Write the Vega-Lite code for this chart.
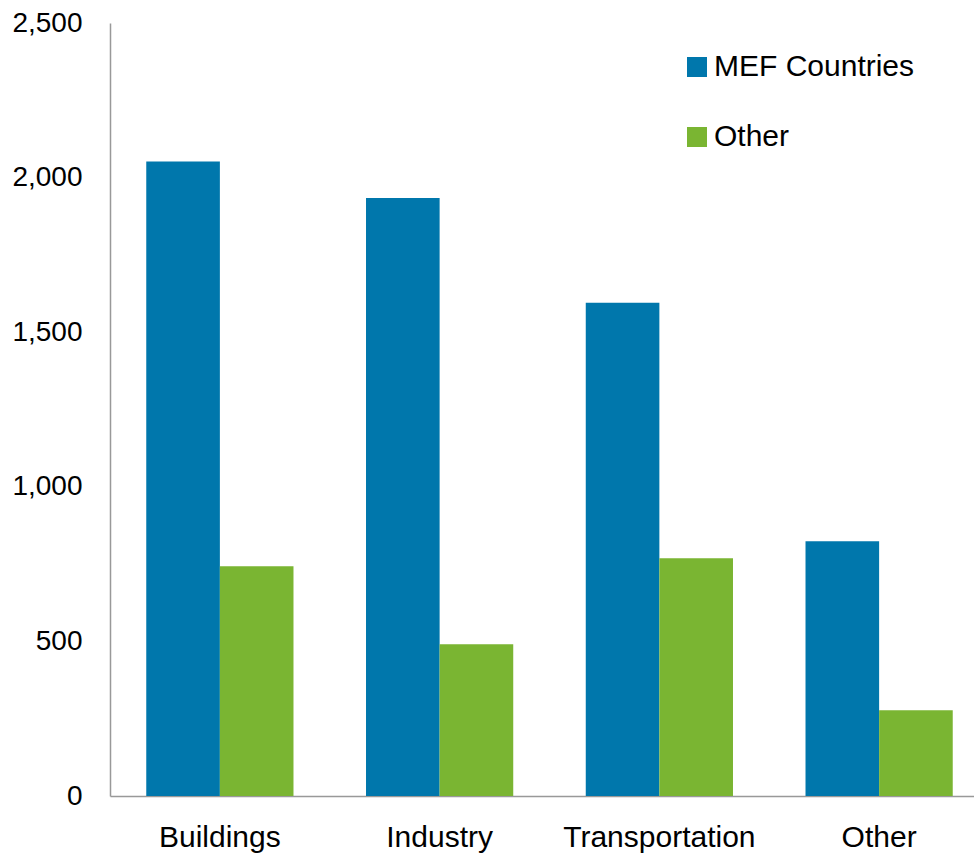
{
  "$schema": "https://vega.github.io/schema/vega-lite/v6.json",
  "width": 879,
  "height": 773,
  "autosize": {"type": "none"},
  "padding": {"left": 110, "top": 23, "right": 0, "bottom": 65},
  "data": {
    "values": [
      {"sector": "Buildings", "group": "MEF Countries", "value": 2052},
      {"sector": "Buildings", "group": "Other", "value": 743},
      {"sector": "Industry", "group": "MEF Countries", "value": 1934},
      {"sector": "Industry", "group": "Other", "value": 491},
      {"sector": "Transportation", "group": "MEF Countries", "value": 1595},
      {"sector": "Transportation", "group": "Other", "value": 769},
      {"sector": "Other", "group": "MEF Countries", "value": 824},
      {"sector": "Other", "group": "Other", "value": 277}
    ]
  },
  "mark": {"type": "bar"},
  "encoding": {
    "x": {
      "field": "sector",
      "type": "nominal",
      "sort": ["Buildings", "Industry", "Transportation", "Other"],
      "scale": {"paddingInner": 0.33, "paddingOuter": 0.165},
      "axis": {
        "title": null,
        "labelAngle": 0,
        "ticks": false,
        "labelPadding": 26,
        "labelFontSize": 30,
        "labelLimit": 0,
        "labelFont": "Liberation Sans",
        "labelColor": "#000000",
        "domainColor": "#999999",
        "domainWidth": 1.5
      }
    },
    "xOffset": {"field": "group", "type": "nominal", "sort": ["MEF Countries", "Other"]},
    "y": {
      "field": "value",
      "type": "quantitative",
      "scale": {"domain": [0, 2500]},
      "axis": {
        "title": null,
        "values": [0, 500, 1000, 1500, 2000, 2500],
        "format": ",.0f",
        "grid": false,
        "ticks": false,
        "labelPadding": 28,
        "labelFontSize": 28,
        "labelFont": "Liberation Sans",
        "labelColor": "#000000",
        "domainColor": "#999999",
        "domainWidth": 1.5
      }
    },
    "color": {
      "field": "group",
      "type": "nominal",
      "scale": {"domain": ["MEF Countries", "Other"], "range": ["#0077AC", "#7AB532"]},
      "legend": {
        "title": null,
        "orient": "none",
        "legendX": 572,
        "legendY": 29,
        "padding": 0,
        "symbolType": "square",
        "symbolSize": 400,
        "symbolStrokeWidth": 0,
        "labelFontSize": 30,
        "labelLimit": 0,
        "labelFont": "Liberation Sans",
        "labelColor": "#000000",
        "labelOffset": 2,
        "rowPadding": 40
      }
    }
  },
  "config": {"view": {"stroke": null}}
}
